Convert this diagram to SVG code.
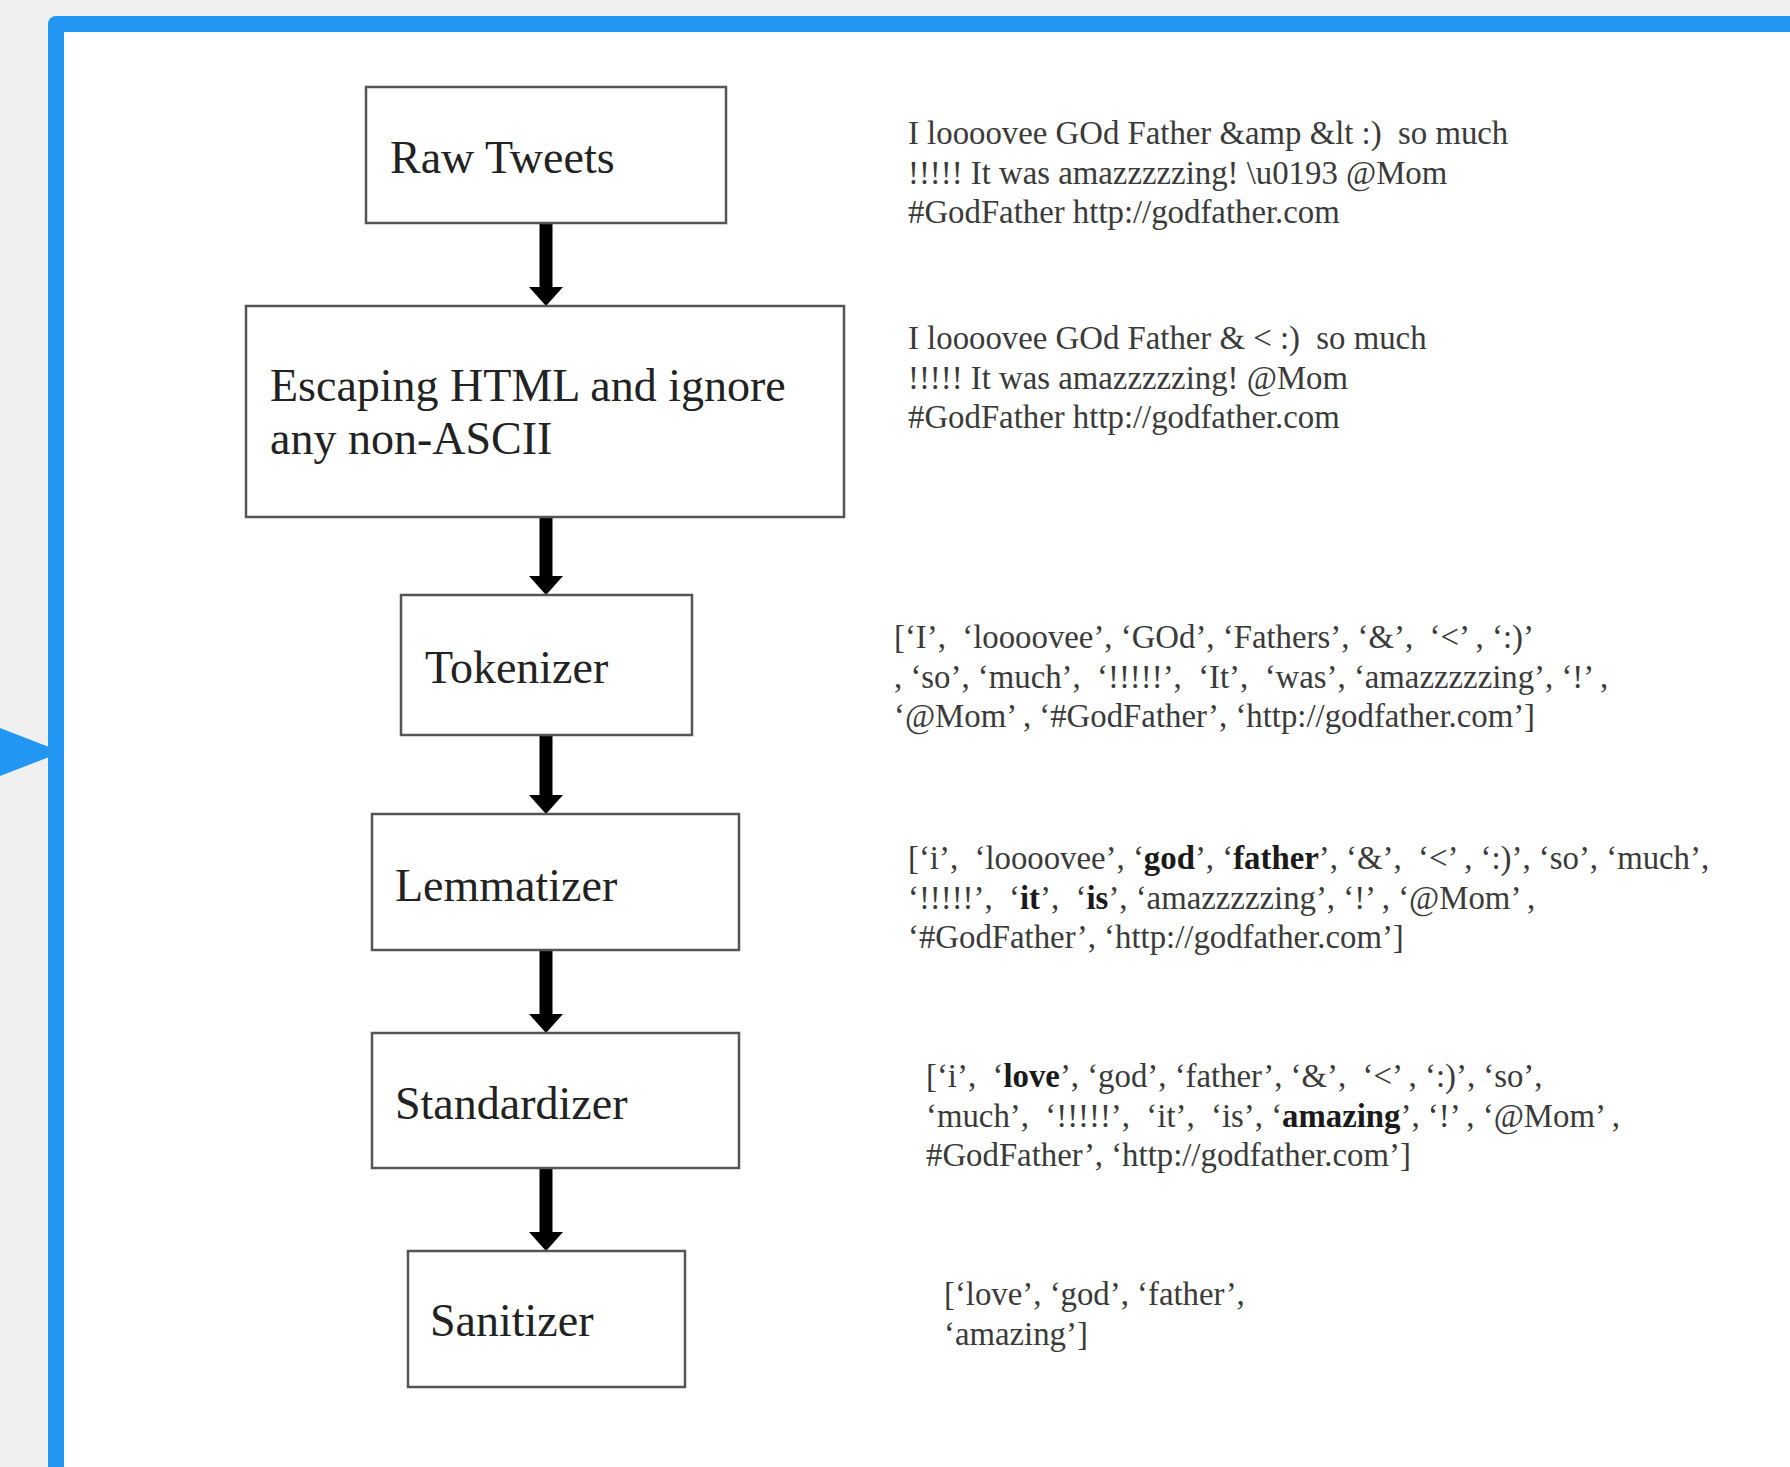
<svg xmlns="http://www.w3.org/2000/svg" width="1790" height="1467" viewBox="0 0 1790 1467">
<defs>
<style>
.box{fill:#ffffff;stroke:#555555;stroke-width:2.5}
.lbl{font-family:"Liberation Serif","Times New Roman",serif;font-size:46px;fill:#222222}
.txt{font-family:"Liberation Serif","Times New Roman",serif;font-size:32.8px;fill:#3a3a3a;white-space:pre}
.b{font-weight:bold;fill:#1a1a1a}
.shaft{stroke:#000000;stroke-width:13;fill:none}
.head{fill:#000000}
</style>
</defs>
<rect x="0" y="0" width="1790" height="1467" fill="#f0f0f0"/>
<polygon points="-10,724 62,752 -10,780" fill="#2196f3"/>
<rect x="48" y="16" width="1800" height="1500" rx="8" fill="#2196f3"/>
<rect x="64" y="32" width="1800" height="1500" fill="#ffffff"/>

<g id="connectors">
<path class="shaft" d="M546 224 V287"/>
<path class="head" d="M529 287 L563 287 L546 306 Z"/>
<path class="shaft" d="M546 518 V576"/>
<path class="head" d="M529 576 L563 576 L546 595 Z"/>
<path class="shaft" d="M546 736 V795"/>
<path class="head" d="M529 795 L563 795 L546 814 Z"/>
<path class="shaft" d="M546 951 V1014"/>
<path class="head" d="M529 1014 L563 1014 L546 1033 Z"/>
<path class="shaft" d="M546 1169 V1232"/>
<path class="head" d="M529 1232 L563 1232 L546 1251 Z"/>
</g>

<g id="raw-tweets">
<rect class="box" x="366" y="87" width="360" height="136"/>
<text class="lbl" x="390" y="173">Raw Tweets</text>
</g>
<g id="escaping">
<rect class="box" x="246" y="306" width="598" height="211"/>
<text class="lbl" x="270" y="401">Escaping HTML and ignore</text>
<text class="lbl" x="270" y="454">any non-ASCII</text>
</g>
<g id="tokenizer">
<rect class="box" x="401" y="595" width="291" height="140"/>
<text class="lbl" x="425" y="683">Tokenizer</text>
</g>
<g id="lemmatizer">
<rect class="box" x="372" y="814" width="367" height="136"/>
<text class="lbl" x="395" y="901">Lemmatizer</text>
</g>
<g id="standardizer">
<rect class="box" x="372" y="1033" width="367" height="135"/>
<text class="lbl" x="395" y="1119">Standardizer</text>
</g>
<g id="sanitizer">
<rect class="box" x="408" y="1251" width="277" height="136"/>
<text class="lbl" x="430" y="1336">Sanitizer</text>
</g>

<g id="raw-example">
<text class="txt" x="908" y="144">I loooovee GOd Father &amp;amp &amp;lt :)  so much</text>
<text class="txt" x="908" y="184">!!!!! It was amazzzzzing! \u0193 @Mom</text>
<text class="txt" x="908" y="223">#GodFather http://godfather.com</text>
</g>
<g id="escaped-example">
<text class="txt" x="908" y="349">I loooovee GOd Father &amp; &lt; :)  so much</text>
<text class="txt" x="908" y="389">!!!!! It was amazzzzzing! @Mom</text>
<text class="txt" x="908" y="428">#GodFather http://godfather.com</text>
</g>
<g id="token-example">
<text class="txt" x="894" y="648">[‘I’,  ‘loooovee’, ‘GOd’, ‘Fathers’, ‘&amp;’,  ‘&lt;’ , ‘:)’</text>
<text class="txt" x="894" y="688">, ‘so’, ‘much’,  ‘!!!!!’,  ‘It’,  ‘was’, ‘amazzzzzing’, ‘!’ ,</text>
<text class="txt" x="894" y="727">‘@Mom’ , ‘#GodFather’, ‘http://godfather.com’]</text>
</g>
<g id="lemma-example">
<text class="txt" x="908" y="869">[‘i’,  ‘loooovee’, ‘<tspan class="b">god</tspan>’, ‘<tspan class="b">father</tspan>’, ‘&amp;’,  ‘&lt;’ , ‘:)’, ‘so’, ‘much’,</text>
<text class="txt" x="908" y="909">‘!!!!!’,  ‘<tspan class="b">it</tspan>’,  ‘<tspan class="b">is</tspan>’, ‘amazzzzzing’, ‘!’ , ‘@Mom’ ,</text>
<text class="txt" x="908" y="948">‘#GodFather’, ‘http://godfather.com’]</text>
</g>
<g id="standard-example">
<text class="txt" x="926" y="1087">[‘i’,  ‘<tspan class="b">love</tspan>’, ‘god’, ‘father’, ‘&amp;’,  ‘&lt;’ , ‘:)’, ‘so’,</text>
<text class="txt" x="926" y="1127">‘much’,  ‘!!!!!’,  ‘it’,  ‘is’, ‘<tspan class="b">amazing</tspan>’, ‘!’ , ‘@Mom’ ,</text>
<text class="txt" x="926" y="1166">#GodFather’, ‘http://godfather.com’]</text>
</g>
<g id="sanitized-example">
<text class="txt" x="944" y="1305">[‘love’, ‘god’, ‘father’,</text>
<text class="txt" x="944" y="1345">‘amazing’]</text>
</g>
</svg>
